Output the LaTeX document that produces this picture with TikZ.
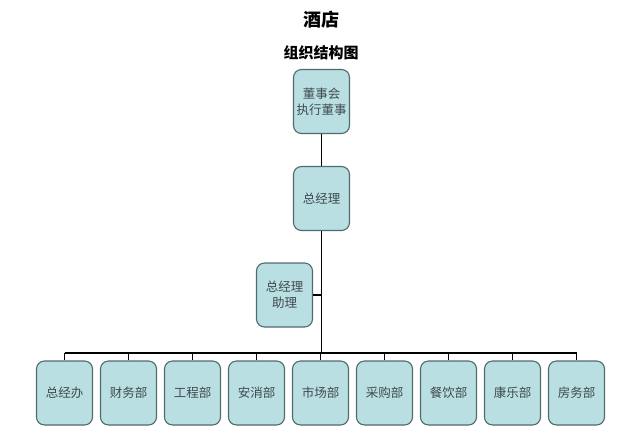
\documentclass[tikz,border=0pt]{standalone}
\usepackage{fontspec}
\setmainfont{Noto Sans CJK SC}
\usepackage{xcolor}
\usepackage{tikz}
\usetikzlibrary{positioning}
\definecolor{boxfill}{HTML}{B9DFE2}
\definecolor{boxline}{HTML}{4F6B6E}
\definecolor{boxtext}{HTML}{3F4A4C}

\begin{document}
\begin{tikzpicture}[x=1pt, y=-1pt, node distance=6.9pt,
    post/.style={rectangle, rounded corners=8pt, draw=boxline, line width=1.1pt, fill=boxfill,
        text=boxtext, minimum width=56pt, minimum height=64pt, inner sep=1pt, align=center,
        font=\fontsize{12.5}{16}\selectfont},
    link/.style={draw=black, line width=1.6pt}]
        \useasboundingbox (0,0) rectangle (640,432);

        \node[font=\bfseries\fontsize{18}{20}\selectfont, name=title] at (321,20) {酒店};
        \node[font=\bfseries\fontsize{15}{17}\selectfont, name=sub] at (321,53) {组织结构图};

        \node[post, name=board] at (321.5,101.5) {董事会\\执行董事};
        \node[post, name=gm] at (321.5,198.5) {总经理};
        \node[post, name=asst] at (284.5,295) {总经理\\助理};

        \node[post, name=d1] at (64.5,393) {总经办};
        \node[post, name=d2, right=of d1] {财务部};
        \node[post, name=d3, right=of d2] {工程部};
        \node[post, name=d4, right=of d3] {安消部};
        \node[post, name=d5, right=of d4] {市场部};
        \node[post, name=d6, right=of d5] {采购部};
        \node[post, name=d7, right=of d6] {餐饮部};
        \node[post, name=d8, right=of d7] {康乐部};
        \node[post, name=d9, right=of d8] {房务部};

        \coordinate (bus) at (321.5,353);

        \draw[link] (board) -- (gm);
        \draw[link] (gm) -- (bus);
        \draw[link] (asst.east) -- (asst.east -| gm);
        \draw[link] (bus -| d1) -- (bus -| d9);
        \foreach \i in {1,...,9}
            \draw[link] (d\i.north) -- (d\i.north |- bus);
    \end{tikzpicture}
\end{document}
